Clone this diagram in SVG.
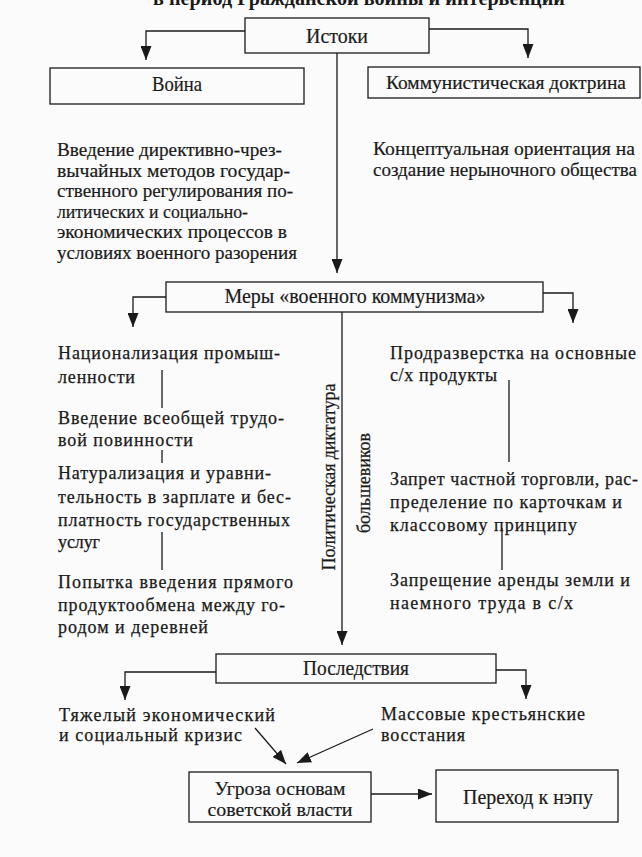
<svg xmlns="http://www.w3.org/2000/svg" width="642" height="857" viewBox="0 0 642 857">
<style>
.bg{fill:#fbfbfb}
.box{fill:none;stroke:#1a1a1a;stroke-width:1.3}
.c{fill:none;stroke:#1a1a1a;stroke-width:1.3}
.t{font-family:"Liberation Serif","Times New Roman",serif;font-size:21px;fill:#1a1a1a;stroke:#1a1a1a;stroke-width:0.2}
.p{font-size:19.5px}
.n{font-size:18.3px}
.m{text-anchor:middle}
.s{font-family:"Liberation Serif","Times New Roman",serif;font-size:18px;fill:#1a1a1a;stroke:#1a1a1a;stroke-width:0.25}
.title{font-family:"Liberation Serif","Times New Roman",serif;font-size:20px;font-weight:bold;fill:#1a1a1a}
</style>
<defs>
<marker id="ah" markerUnits="userSpaceOnUse" markerWidth="14" markerHeight="11" refX="14" refY="5.5" orient="auto" viewBox="0 0 14 11">
<path d="M0,0 L14,5.5 L0,11 z" fill="#1a1a1a"/>
</marker>
</defs>
<rect class="bg" x="0" y="0" width="642" height="857"/>
<text class="title m" x="359" y="5" textLength="412" lengthAdjust="spacingAndGlyphs">в период Гражданской войны и интервенции</text>

<g id="connectors">
<path class="c" d="M245,31 H146 V60" marker-end="url(#ah)"/>
<path class="c" d="M429,29 H528 V58" marker-end="url(#ah)"/>
<path class="c" d="M337,53 V273" marker-end="url(#ah)"/>
<path class="c" d="M166,297 H133 V327" marker-end="url(#ah)"/>
<path class="c" d="M543,293 H573 V323" marker-end="url(#ah)"/>
<path class="c" d="M342,312 V645" marker-end="url(#ah)"/>
<path class="c" d="M216,672 H125 V700" marker-end="url(#ah)"/>
<path class="c" d="M496,670 H526 V699" marker-end="url(#ah)"/>
<path class="c" d="M255,728 L286,764" marker-end="url(#ah)"/>
<path class="c" d="M373,729 L297,763" marker-end="url(#ah)"/>
<path class="c" d="M371,794 H432" marker-end="url(#ah)"/>
<path class="c" d="M162,370 V408 M162,450 V463 M162,532 V570"/>
<path class="c" d="M509,380 V462 M502,528 V570"/>
</g>

<g id="istoki">
<rect class="box" x="245" y="18" width="184" height="35"/>
<text class="t m" x="337" y="43" textLength="62" lengthAdjust="spacingAndGlyphs">Истоки</text>
</g>
<g id="voina">
<rect class="box" x="50" y="68" width="254" height="36"/>
<text class="t m" x="177" y="91" textLength="50" lengthAdjust="spacingAndGlyphs">Война</text>
</g>
<g id="doktrina">
<rect class="box" x="368" y="67" width="272" height="31"/>
<text class="t n m" x="506" y="89" textLength="240" lengthAdjust="spacingAndGlyphs">Коммунистическая доктрина</text>
</g>
<g id="war-text">
<text class="t p" x="57" y="156" textLength="225" lengthAdjust="spacingAndGlyphs">Введение директивно-чрез-</text>
<text class="t p" x="57" y="177" textLength="233" lengthAdjust="spacingAndGlyphs">вычайных методов государ-</text>
<text class="t p" x="57" y="197" textLength="236" lengthAdjust="spacingAndGlyphs">ственного регулирования по-</text>
<text class="t p" x="57" y="218" textLength="191" lengthAdjust="spacingAndGlyphs">литических и социально-</text>
<text class="t p" x="57" y="238" textLength="230" lengthAdjust="spacingAndGlyphs">экономических процессов в</text>
<text class="t p" x="57" y="259" textLength="240" lengthAdjust="spacingAndGlyphs">условиях военного разорения</text>
</g>
<g id="doktrina-text">
<text class="t p" x="373" y="155" textLength="262" lengthAdjust="spacingAndGlyphs">Концептуальная ориентация на</text>
<text class="t n" x="373" y="176" textLength="264" lengthAdjust="spacingAndGlyphs">создание нерыночного общества</text>
</g>
<g id="mery">
<rect class="box" x="166" y="282" width="377" height="30"/>
<text class="t m" x="355" y="303" textLength="261" lengthAdjust="spacingAndGlyphs">Меры «военного коммунизма»</text>
</g>
<g id="left-measures">
<text class="s" x="58" y="359" textLength="222">Национализация промыш-</text>
<text class="s" x="58" y="383" textLength="77">ленности</text>
<text class="s" x="58" y="424" textLength="226">Введение всеобщей трудо-</text>
<text class="s" x="58" y="446" textLength="135">вой повинности</text>
<text class="s" x="58" y="479" textLength="213">Натурализация и уравни-</text>
<text class="s" x="58" y="503" textLength="233">тельность в зарплате и бес-</text>
<text class="s" x="58" y="526" textLength="232">платность государственных</text>
<text class="s" x="58" y="548" textLength="42">услуг</text>
<text class="s" x="58" y="588" textLength="235">Попытка введения прямого</text>
<text class="s" x="58" y="611" textLength="227">продуктообмена между го-</text>
<text class="s" x="58" y="633" textLength="150">родом и деревней</text>
</g>
<g id="right-measures">
<text class="s" x="390" y="359" textLength="246">Продразверстка на основные</text>
<text class="s" x="390" y="381" textLength="107">с/х продукты</text>
<text class="s" x="390" y="485" textLength="248">Запрет частной торговли, рас-</text>
<text class="s" x="390" y="508" textLength="232">пределение по карточкам и</text>
<text class="s" x="390" y="531" textLength="187">классовому принципу</text>
<text class="s" x="390" y="586" textLength="240">Запрещение аренды земли и</text>
<text class="s" x="390" y="609" textLength="183">наемного труда в с/х</text>
</g>
<g id="dictatorship">
<text class="s m" transform="translate(335,477) rotate(-90)" textLength="187">Политическая диктатура</text>
<text class="s m" transform="translate(370,483) rotate(-90)" textLength="100">большевиков</text>
</g>
<g id="posledstviya">
<rect class="box" x="216" y="654" width="280" height="29"/>
<text class="t m" x="356" y="675" textLength="106" lengthAdjust="spacingAndGlyphs">Последствия</text>
</g>
<g id="crisis">
<text class="s" x="59" y="721" textLength="216">Тяжелый экономический</text>
<text class="s" x="59" y="741" textLength="183">и социальный кризис</text>
</g>
<g id="uprisings">
<text class="s" x="381" y="720" textLength="204">Массовые крестьянские</text>
<text class="s" x="381" y="741" textLength="84">восстания</text>
</g>
<g id="ugroza">
<rect class="box" x="189" y="772" width="182" height="50"/>
<text class="t p m" x="280" y="795" textLength="131" lengthAdjust="spacingAndGlyphs">Угроза основам</text>
<text class="t p m" x="280" y="816" textLength="145" lengthAdjust="spacingAndGlyphs">советской власти</text>
</g>
<g id="nep">
<rect class="box" x="436" y="770" width="182" height="52"/>
<text class="t m" x="528" y="804" textLength="130" lengthAdjust="spacingAndGlyphs">Переход к нэпу</text>
</g>
</svg>
